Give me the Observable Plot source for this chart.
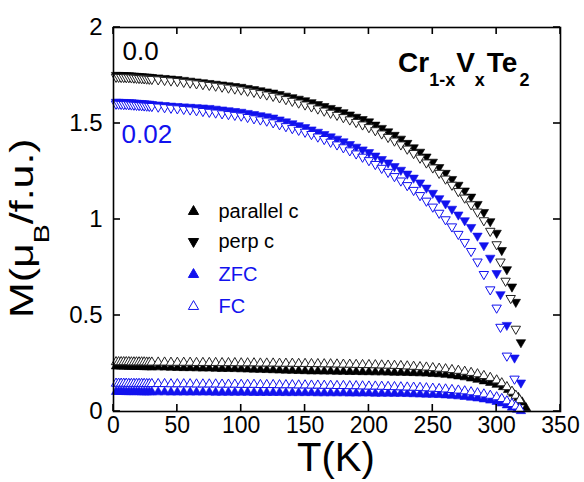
<!DOCTYPE html>
<html><head><meta charset="utf-8">
<script src="https://cdn.jsdelivr.net/npm/d3@7"></script>
<script src="https://cdn.jsdelivr.net/npm/@observablehq/plot@0.6"></script>
<style>body{margin:0;background:#fff;} #chart{width:584px;height:482px;}</style>
</head><body><div id="chart"></div>
<script>
// Temperature grid (K) shared by all series up to 300 K
const T = [2,4,6,8,10,12,14,16,18,20,22,24,26,28,30,
  35,40,45,50,55,60,65,70,75,80,
  85,90,95,100,105,110,115,120,125,130,
  135,140,145,150,155,160,165,170,175,180,
  185,190,195,200,205,210,215,220,225,230,
  235,240,245,250,255,260,265,270,275,280,
  285,290,295,300];

// perp c, ZFC, x = 0.0 (black filled down-triangle)
const perpZFC_x0 = [1.752,1.752,1.751,1.751,1.750,1.750,1.749,1.748,1.747,1.746,1.745,1.744,1.743,1.742,1.741,
  1.739,1.736,1.733,1.730,1.726,1.722,1.718,1.714,1.710,1.706,
  1.702,1.698,1.694,1.690,1.684,1.678,1.672,1.666,1.660,1.652,
  1.644,1.636,1.628,1.620,1.610,1.600,1.590,1.580,1.570,1.558,
  1.546,1.534,1.522,1.510,1.493,1.476,1.458,1.440,1.420,1.398,
  1.375,1.352,1.327,1.300,1.272,1.242,1.210,1.180,1.150,1.118,
  1.080,1.038,0.990,0.930];
const perpZFC_x0_tailT = [304,308,312,315,319];
const perpZFC_x0_tailM = [0.84,0.74,0.65,0.57,0.36];

// perp c, FC, x = 0.0 (black open down-triangle)
const perpFC_x0 = [1.742,1.742,1.741,1.741,1.740,1.740,1.739,1.738,1.737,1.736,1.735,1.734,1.733,1.732,1.731,
  1.729,1.726,1.723,1.720,1.716,1.712,1.708,1.704,1.700,1.696,
  1.691,1.686,1.681,1.676,1.670,1.664,1.657,1.650,1.643,1.635,
  1.626,1.617,1.608,1.598,1.588,1.577,1.566,1.555,1.544,1.532,
  1.520,1.507,1.494,1.480,1.464,1.447,1.429,1.410,1.390,1.368,
  1.345,1.321,1.296,1.270,1.242,1.212,1.180,1.147,1.113,1.078,
  1.040,0.995,0.940,0.870];
const perpFC_x0_tailT = [303,307,311,315];
const perpFC_x0_tailM = [0.78,0.68,0.59,0.43];

// perp c, ZFC, x = 0.02 (blue filled down-triangle)
const perpZFC_x02 = [1.612,1.612,1.611,1.611,1.610,1.610,1.609,1.608,1.607,1.606,1.605,1.604,1.603,1.602,1.600,
  1.598,1.595,1.592,1.590,1.588,1.586,1.584,1.582,1.580,1.576,
  1.572,1.568,1.564,1.560,1.554,1.548,1.542,1.536,1.530,1.520,
  1.510,1.500,1.490,1.480,1.468,1.456,1.444,1.432,1.420,1.406,
  1.392,1.378,1.364,1.350,1.332,1.314,1.296,1.277,1.258,1.238,
  1.217,1.192,1.165,1.138,1.110,1.083,1.055,1.025,0.995,0.960,
  0.915,0.865,0.800,0.720];
const perpZFC_x02_tailT = [303,308,314,319];
const perpZFC_x02_tailM = [0.61,0.45,0.28,0.15];

// perp c, FC, x = 0.02 (blue open down-triangle)
const perpFC_x02 = [1.602,1.602,1.601,1.600,1.600,1.599,1.598,1.597,1.596,1.595,1.594,1.593,1.592,1.591,1.590,
  1.587,1.584,1.581,1.578,1.575,1.572,1.568,1.564,1.560,1.556,
  1.552,1.548,1.544,1.540,1.533,1.526,1.520,1.514,1.505,1.495,
  1.485,1.475,1.466,1.456,1.444,1.431,1.418,1.404,1.390,1.375,
  1.359,1.343,1.326,1.308,1.288,1.268,1.247,1.225,1.202,1.178,
  1.153,1.126,1.097,1.066,1.034,1.000,0.963,0.924,0.882,0.835,
  0.780,0.715,0.635,0.540];
const perpFC_x02_tailT = [303,308,314];
const perpFC_x02_tailM = [0.44,0.29,0.17];

// parallel c, ZFC, x = 0.0 (black filled up-triangle)
const parZFC_x0 = [0.236,0.236,0.235,0.235,0.235,0.234,0.234,0.234,0.233,0.233,0.233,0.232,0.232,0.232,0.231,
  0.231,0.230,0.229,0.228,0.227,0.227,0.226,0.225,0.225,0.224,
  0.223,0.223,0.222,0.221,0.220,0.219,0.218,0.217,0.216,0.215,
  0.214,0.213,0.212,0.211,0.210,0.210,0.209,0.209,0.208,0.208,
  0.207,0.207,0.206,0.206,0.205,0.205,0.204,0.203,0.203,0.202,
  0.201,0.200,0.199,0.197,0.195,0.192,0.188,0.184,0.179,0.173,
  0.166,0.158,0.150,0.140];
const parZFC_x0_tailT = [305,309,313,317,320,323];
const parZFC_x0_tailM = [0.128,0.113,0.094,0.072,0.048,0.018];

// parallel c, FC, x = 0.0 (black open up-triangle)
const parFC_x0 = [0.258,0.258,0.258,0.258,0.258,0.258,0.257,0.257,0.257,0.257,0.257,0.257,0.256,0.256,0.256,
  0.256,0.256,0.255,0.255,0.255,0.255,0.254,0.254,0.254,0.254,
  0.253,0.253,0.253,0.252,0.252,0.252,0.251,0.251,0.251,0.250,
  0.250,0.250,0.249,0.249,0.248,0.248,0.247,0.247,0.246,0.245,
  0.245,0.244,0.243,0.243,0.242,0.241,0.240,0.239,0.238,0.236,
  0.234,0.232,0.230,0.227,0.224,0.221,0.217,0.213,0.208,0.202,
  0.195,0.186,0.176,0.163];
const parFC_x0_tailT = [304,308,312,315,318];
const parFC_x0_tailM = [0.148,0.128,0.104,0.083,0.060];

// parallel c, ZFC, x = 0.02 (blue filled up-triangle)
const parZFC_x02 = [0.103,0.103,0.103,0.103,0.102,0.102,0.102,0.102,0.102,0.102,0.101,0.101,0.101,0.101,0.101,
  0.101,0.101,0.100,0.100,0.100,0.100,0.100,0.100,0.100,0.099,
  0.099,0.099,0.099,0.099,0.099,0.098,0.098,0.098,0.098,0.098,
  0.097,0.097,0.097,0.097,0.097,0.096,0.096,0.096,0.096,0.096,
  0.095,0.095,0.095,0.095,0.094,0.094,0.094,0.093,0.093,0.092,
  0.091,0.090,0.089,0.088,0.087,0.085,0.083,0.080,0.077,0.073,
  0.069,0.064,0.058,0.051];
const parZFC_x02_tailT = [304,308,312,316,319];
const parZFC_x02_tailM = [0.043,0.033,0.021,0.010,0.003];

// parallel c, FC, x = 0.02 (blue open up-triangle)
const parFC_x02 = [0.146,0.146,0.146,0.146,0.146,0.145,0.145,0.145,0.145,0.145,0.145,0.145,0.144,0.144,0.144,
  0.144,0.144,0.143,0.143,0.143,0.143,0.142,0.142,0.142,0.142,
  0.141,0.141,0.141,0.140,0.140,0.140,0.139,0.139,0.139,0.138,
  0.138,0.138,0.137,0.137,0.136,0.136,0.135,0.135,0.134,0.134,
  0.133,0.133,0.132,0.131,0.131,0.130,0.129,0.128,0.127,0.126,
  0.125,0.124,0.122,0.120,0.118,0.116,0.113,0.110,0.106,0.101,
  0.096,0.090,0.083,0.075];
const parFC_x02_tailT = [304,308,312,315,318];
const parFC_x02_tailM = [0.066,0.054,0.040,0.027,0.014];

const xTicks = [0,50,100,150,200,250,300,350];
const yTicks = [0,0.5,1,1.5,2];
const legendLabels = ["parallel c","perp c","ZFC","FC"];
const compLabels = ["0.0","0.02"];

const BLACK = "#000000";
const BLUE = "#1212ee";

function rows(m, tailT, tailM) {
  const ts = T.concat(tailT), ms = m.concat(tailM);
  return ts.map((t, i) => ({T: t, M: ms[i]}));
}

const R = 3.5;
function filled(data, color, down) {
  return Plot.dot(data, {x: "T", y: "M", symbol: "triangle", rotate: down ? 180 : 0, r: R, fill: color, stroke: color, strokeWidth: 0.6});
}
function open(data, color, down) {
  return Plot.dot(data, {x: "T", y: "M", symbol: "triangle", rotate: down ? 180 : 0, r: R, fill: "white", stroke: color, strokeWidth: 1});
}

const legendRows = [
  {color: BLACK, down: false, fillC: BLACK},
  {color: BLACK, down: true, fillC: BLACK},
  {color: BLUE, down: false, fillC: BLUE},
  {color: BLUE, down: false, fillC: "white"}
];
const legendMarks = [];
legendRows.forEach((r, i) => {
  const dy = [184, 214, 247, 279][i];
  legendMarks.push(Plot.dot([legendLabels[i]], {frameAnchor: "top-left", dx: 80, dy, symbol: "triangle", rotate: r.down ? 180 : 0, r: 3.8, fill: r.fillC, stroke: r.color, strokeWidth: 1}));
  legendMarks.push(Plot.text([legendLabels[i]], {text: d => d, frameAnchor: "top-left", dx: 105, dy, textAnchor: "start", lineAnchor: "middle", fontSize: 20, fill: r.color}));
});

const plot = Plot.plot({
  width: 584, height: 482,
  marginTop: 27, marginBottom: 71, marginLeft: 113, marginRight: 24,
  style: {fontFamily: "'Liberation Sans', Arial, sans-serif", background: "white", color: "black"},
  x: {domain: [0, 350]},
  y: {domain: [0, 2]},
  marks: [
    Plot.axisX(xTicks, {anchor: "bottom", tickSize: 0, tickPadding: 5, fontSize: 23, label: null, tickFormat: d => String(d)}),
    Plot.axisY(yTicks, {anchor: "left", tickSize: 0, tickPadding: 11, fontSize: 24, label: null, tickFormat: d => String(d)}),
    filled(rows(parZFC_x0, parZFC_x0_tailT, parZFC_x0_tailM), BLACK, false),
    open(rows(parFC_x0, parFC_x0_tailT, parFC_x0_tailM), "#222", false),
    filled(rows(parZFC_x02, parZFC_x02_tailT, parZFC_x02_tailM), BLUE, false),
    open(rows(parFC_x02, parFC_x02_tailT, parFC_x02_tailM), BLUE, false),
    filled(rows(perpZFC_x0, perpZFC_x0_tailT, perpZFC_x0_tailM), BLACK, true),
    open(rows(perpFC_x0, perpFC_x0_tailT, perpFC_x0_tailM), "#222", true),
    filled(rows(perpZFC_x02, perpZFC_x02_tailT, perpZFC_x02_tailM), BLUE, true),
    open(rows(perpFC_x02, perpFC_x02_tailT, perpFC_x02_tailM), BLUE, true),
    Plot.text([compLabels[0]], {text: d => d, frameAnchor: "top-left", dx: 9, dy: 24, textAnchor: "start", lineAnchor: "middle", fontSize: 26, fill: BLACK}),
    Plot.text([compLabels[1]], {text: d => d, frameAnchor: "top-left", dx: 8, dy: 107, textAnchor: "start", lineAnchor: "middle", fontSize: 26, fill: BLUE}),
    ...legendMarks,
    Plot.frame({stroke: "black", strokeWidth: 1.6})
  ]
});

document.getElementById("chart").appendChild(plot);

const svg = d3.select(plot);
const ff = "'Liberation Sans', Arial, sans-serif";

// Inward ticks on all four sides, positioned with Plot's own scales
const xs = plot.scale("x"), ys = plot.scale("y");
const xL = xs.apply(0), xR = xs.apply(350), yB = ys.apply(0), yT = ys.apply(2);
const TL = 7;
const tg = svg.append("g").attr("stroke", "black").attr("stroke-width", 1.6).attr("fill", "none");
xTicks.forEach(t => {
  const X = xs.apply(t);
  tg.append("line").attr("x1", X).attr("x2", X).attr("y1", yB).attr("y2", yB - TL);
  tg.append("line").attr("x1", X).attr("x2", X).attr("y1", yT).attr("y2", yT + TL);
});
yTicks.forEach(v => {
  const Y = ys.apply(v);
  tg.append("line").attr("x1", xL).attr("x2", xL + TL).attr("y1", Y).attr("y2", Y);
  tg.append("line").attr("x1", xR).attr("x2", xR - TL).attr("y1", Y).attr("y2", Y);
});

// Axis titles and formula with subscripts
svg.append("text").attr("x", 336).attr("y", 471).attr("text-anchor", "middle")
  .attr("font-family", ff).attr("font-size", 40).attr("fill", "black").text("T(K)");

const yl = svg.append("text").attr("transform", "translate(33,318) rotate(-90) scale(1.3,1)")
  .attr("text-anchor", "start").attr("font-family", ff).attr("fill", "black");
yl.append("tspan").attr("font-size", 33).text("M(μ");
yl.append("tspan").attr("font-size", 22).attr("dy", 16).text("B");
yl.append("tspan").attr("font-size", 33).attr("dy", -16).text("/f.u.)");

const fm = svg.append("text").attr("x", 398).attr("y", 72).attr("text-anchor", "start")
  .attr("font-family", ff).attr("font-weight", "bold").attr("fill", "black");
fm.append("tspan").attr("font-size", 28).text("Cr");
fm.append("tspan").attr("font-size", 18).attr("dy", 14).text("1-x");
fm.append("tspan").attr("font-size", 28).attr("dy", -14).attr("dx", 1).text("V");
fm.append("tspan").attr("font-size", 18).attr("dy", 14).text("x");
fm.append("tspan").attr("font-size", 28).attr("dy", -14).attr("dx", 2).text("Te");
fm.append("tspan").attr("font-size", 18).attr("dy", 14).attr("dx", 2).text("2");
</script>
</body></html>
